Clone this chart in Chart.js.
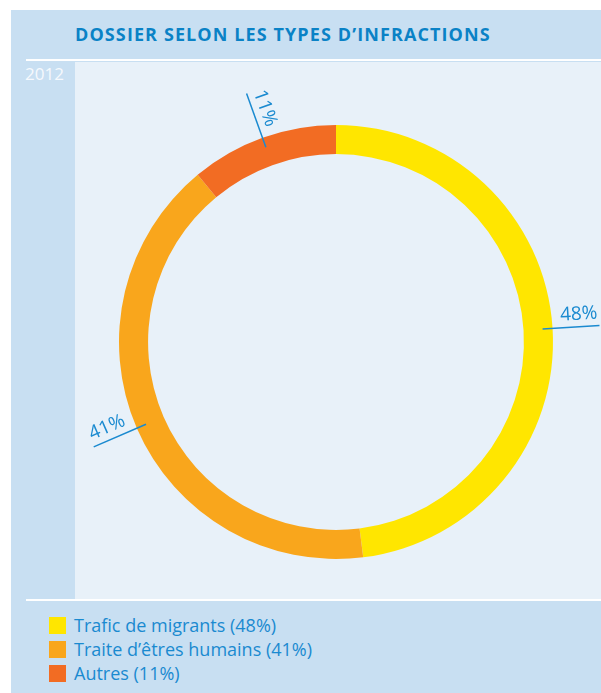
<!DOCTYPE html>
<html>
<head>
<meta charset="utf-8">
<script src="https://cdn.jsdelivr.net/npm/chart.js@4"></script>
<style>
  body { margin: 0; background: #fff; width: 601px; height: 693px; overflow: hidden; font-family: "Open Sans", sans-serif; }
  #panel { position: absolute; left: 11px; top: 10px; width: 590px; height: 683px; background: #c8dff2; }
  #title { position: absolute; left: 75px; top: 22px; font-size: 18px; font-weight: bold; color: #0a82c6; letter-spacing: 1.1px; white-space: nowrap; }
  .rule { position: absolute; left: 26px; width: 575px; height: 2px; background: #fff; }
  #year { position: absolute; left: 25px; top: 62px; font-size: 17px; color: #f6f9fd; }
  #plot { position: absolute; left: 75px; top: 62px; width: 526px; height: 537px; background: #e8f1f9; }
  #legend { position: absolute; left: 49px; top: 613px; }
  .item { height: 24px; display: flex; align-items: center; font-size: 18px; color: #1a8ad0; white-space: nowrap; }
  .box { width: 17px; height: 17px; margin-right: 8px; }
</style>
</head>
<body>
<div id="panel"></div>
<div id="title">DOSSIER SELON LES TYPES D’INFRACTIONS</div>
<div class="rule" style="top:59px"></div>
<div id="year">2012</div>
<div id="plot"><canvas id="donut"></canvas></div>
<div class="rule" style="top:599px"></div>
<div id="legend"></div>

<script>
    "use strict";

    // Data
    var categories = ["Trafic de migrants", "Traite d’êtres humains", "Autres"];
    var shares = [48, 41, 11];
    var colors = ["#ffe600", "#f9a61c", "#f26c23"];

    // Legend
    var legend = document.getElementById("legend");
    categories.forEach(function (name, i) {
        var row = document.createElement("div");
        row.className = "item";
        row.innerHTML = '<span class="box" style="background:' + colors[i] + '"></span>' +
            name + " (" + shares[i] + "%)";
        legend.appendChild(row);
    });

    // Leader lines + rotated percentage labels
    var leaderLabels = {
        id: "leaderLabels",
        afterDatasetsDraw: function (chart) {
            var ctx = chart.ctx;
            var meta = chart.getDatasetMeta(0);
            meta.data.forEach(function (arc, i) {
                var mid = (arc.startAngle + arc.endAngle) / 2;
                var ux = Math.cos(mid), uy = Math.sin(mid);
                var r0 = arc.outerRadius - 10, r1 = arc.outerRadius + 47;
                ctx.save();
                ctx.strokeStyle = "#1a8ad0";
                ctx.lineWidth = 1.5;
                ctx.beginPath();
                ctx.moveTo(arc.x + ux * r0, arc.y + uy * r0);
                ctx.lineTo(arc.x + ux * r1, arc.y + uy * r1);
                ctx.stroke();

                // keep text upright
                var rot = mid;
                if (Math.cos(rot) < 0) rot += Math.PI;
                var rt = arc.outerRadius + 27;
                ctx.translate(arc.x + ux * rt, arc.y + uy * rt);
                ctx.rotate(rot);
                ctx.fillStyle = "#1a8ad0";
                ctx.font = "19px 'Open Sans'";
                ctx.textAlign = "center";
                ctx.textBaseline = "alphabetic";
                ctx.fillText(shares[i] + "%", 0, -7);
                ctx.restore();
            });
        }
    };

    var ctx1 = document.getElementById("donut").getContext("2d");
    var myChart1 = new Chart(ctx1, {
        type: "doughnut",
        data: {
            labels: categories,
            datasets: [{
                data: shares,
                backgroundColor: colors,
                borderWidth: 0
            }]
        },
        options: {
            responsive: true,
            maintainAspectRatio: false,
            animation: false,
            cutout: "86.6%",
            layout: { padding: { left: 44, right: 48, top: 63, bottom: 40 } },
            plugins: {
                legend: { display: false },
                tooltip: { enabled: false }
            }
        },
        plugins: [leaderLabels]
    });
</script>
</body>
</html>
